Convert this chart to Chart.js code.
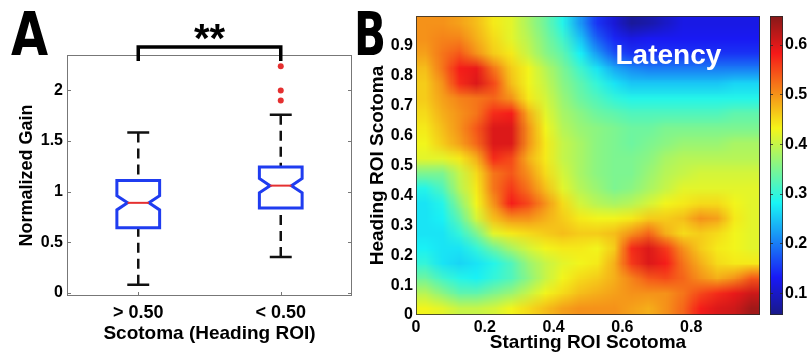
<!DOCTYPE html>
<html>
<head>
<meta charset="utf-8">
<script src="https://cdn.jsdelivr.net/npm/chart.js@4.4.0/dist/chart.umd.min.js"></script>
<style>
  html, body { margin: 0; padding: 0; background: #fff; }
  #wrap { position: relative; width: 808px; height: 352px; overflow: hidden; }
  canvas { position: absolute; top: 0; }
  #boxChart { left: 0; }
  #heatChart { left: 360px; }
  #barChart { left: 760px; }
</style>
</head>
<body>
<div id="wrap">
  <canvas id="boxChart" width="400" height="352"></canvas>
  <canvas id="heatChart" width="410" height="352"></canvas>
  <canvas id="barChart" width="48" height="352"></canvas>
</div>
<script>
// ---- panel A: notched box plot ----
const groupLabels = ["> 0.50", "< 0.50"];
const groupPositions = [1, 2];
const whiskerLow = [0.08, 0.355];
const q1 = [0.645, 0.84];
const notchLow = [0.82, 0.99];
const medians = [0.89, 1.06];
const notchHigh = [0.96, 1.13];
const q3 = [1.11, 1.245];
const whiskerHigh = [1.585, 1.76];
const outliersHigh = [2.24, 2.0, 1.9];
const gainTicks = [0, 0.5, 1, 1.5, 2];

// ---- panel B: latency map, rows from y = 0.975 (top) down to 0.025 ----
const xCenters = [0.025, 0.075, 0.125, 0.175, 0.225, 0.275, 0.325, 0.375, 0.425, 0.475,
                  0.525, 0.575, 0.625, 0.675, 0.725, 0.775, 0.825, 0.875, 0.925, 0.975];
const yCenters = [0.975, 0.925, 0.875, 0.825, 0.775, 0.725, 0.675, 0.625, 0.575, 0.525,
                  0.475, 0.425, 0.375, 0.325, 0.275, 0.225, 0.175, 0.125, 0.075, 0.025];
const latencyGrid = [
  [0.50,0.50,0.49,0.47,0.44,0.42,0.38,0.34,0.29,0.22,0.15,0.11,0.07,0.08,0.10,0.12,0.12,0.12,0.12,0.12],
  [0.50,0.51,0.51,0.48,0.45,0.42,0.39,0.35,0.31,0.25,0.18,0.14,0.12,0.13,0.13,0.13,0.13,0.13,0.13,0.13],
  [0.49,0.52,0.54,0.50,0.46,0.44,0.40,0.36,0.33,0.28,0.22,0.17,0.15,0.15,0.15,0.15,0.15,0.15,0.15,0.15],
  [0.47,0.52,0.58,0.59,0.52,0.46,0.43,0.39,0.35,0.31,0.27,0.23,0.21,0.20,0.20,0.20,0.20,0.20,0.20,0.20],
  [0.46,0.50,0.57,0.60,0.55,0.47,0.43,0.40,0.36,0.33,0.30,0.27,0.25,0.25,0.25,0.25,0.25,0.25,0.26,0.26],
  [0.46,0.49,0.51,0.52,0.53,0.50,0.44,0.41,0.37,0.34,0.32,0.30,0.29,0.29,0.29,0.29,0.29,0.29,0.29,0.29],
  [0.45,0.48,0.50,0.52,0.57,0.58,0.48,0.42,0.38,0.36,0.34,0.33,0.32,0.32,0.32,0.32,0.32,0.32,0.33,0.33],
  [0.44,0.47,0.50,0.54,0.60,0.60,0.50,0.43,0.39,0.37,0.36,0.35,0.34,0.34,0.35,0.35,0.35,0.35,0.35,0.35],
  [0.43,0.46,0.49,0.53,0.60,0.60,0.50,0.44,0.40,0.38,0.36,0.35,0.34,0.35,0.36,0.37,0.37,0.37,0.38,0.38],
  [0.42,0.42,0.44,0.48,0.57,0.55,0.48,0.44,0.40,0.38,0.36,0.35,0.35,0.36,0.38,0.39,0.39,0.39,0.39,0.39],
  [0.35,0.35,0.40,0.45,0.52,0.54,0.50,0.45,0.41,0.38,0.36,0.35,0.35,0.37,0.39,0.40,0.41,0.41,0.41,0.41],
  [0.29,0.32,0.39,0.44,0.52,0.56,0.52,0.47,0.42,0.39,0.37,0.35,0.36,0.38,0.40,0.42,0.42,0.42,0.42,0.42],
  [0.27,0.29,0.36,0.43,0.50,0.58,0.55,0.50,0.45,0.41,0.39,0.38,0.39,0.41,0.43,0.44,0.45,0.45,0.43,0.42],
  [0.27,0.28,0.33,0.41,0.47,0.50,0.50,0.48,0.46,0.44,0.43,0.43,0.44,0.46,0.46,0.47,0.50,0.49,0.44,0.42],
  [0.27,0.27,0.30,0.35,0.42,0.44,0.45,0.46,0.47,0.46,0.46,0.47,0.50,0.53,0.48,0.45,0.46,0.45,0.43,0.42],
  [0.28,0.27,0.27,0.30,0.34,0.38,0.41,0.43,0.44,0.44,0.43,0.46,0.57,0.60,0.56,0.50,0.46,0.44,0.43,0.42],
  [0.30,0.27,0.26,0.27,0.29,0.32,0.37,0.40,0.42,0.43,0.44,0.48,0.56,0.60,0.58,0.52,0.48,0.45,0.44,0.44],
  [0.34,0.31,0.29,0.28,0.30,0.32,0.36,0.40,0.43,0.45,0.46,0.48,0.51,0.54,0.55,0.53,0.50,0.48,0.50,0.54],
  [0.39,0.36,0.33,0.33,0.35,0.37,0.40,0.43,0.45,0.47,0.48,0.49,0.50,0.50,0.50,0.52,0.55,0.57,0.59,0.61],
  [0.43,0.42,0.40,0.40,0.41,0.43,0.45,0.47,0.49,0.50,0.50,0.50,0.49,0.48,0.50,0.53,0.58,0.60,0.61,0.64]
];
const startTicks = [0, 0.2, 0.4, 0.6, 0.8];
const headingTicks = [0, 0.1, 0.2, 0.3, 0.4, 0.5, 0.6, 0.7, 0.8, 0.9];
const colorTicks = [0.1, 0.2, 0.3, 0.4, 0.5, 0.6];
const colorMin = 0.056;
const colorMax = 0.658;

const FONT = '"Liberation Sans", Arial, Helvetica, sans-serif';
Chart.defaults.font.family = FONT;
Chart.defaults.font.weight = "bold";
Chart.defaults.color = "#000";

function jet(t) {
  t = Math.max(0, Math.min(1, t));
  const c = (v) => Math.round(25 + 220 * Math.max(0, Math.min(1, v)));
  return [c(1.5 - Math.abs(4 * t - 3)), c(1.5 - Math.abs(4 * t - 2)), c(1.5 - Math.abs(4 * t - 1))];
}
function jetCss(v) {
  const [r, g, b] = jet((v - colorMin) / (colorMax - colorMin));
  return `rgb(${r},${g},${b})`;
}
const tickLabel = (v) => (v === 0 ? "0" : v.toFixed(1));
const noGrid = { display: false, drawTicks: false, tickLength: 0 };

// box plot drawing
const boxHalfWidth = 0.15;
const capHalfWidth = 0.077;
const boxPlugin = {
  id: "boxes",
  afterDatasetsDraw(chart) {
    const { ctx, chartArea: a, scales: { x, y } } = chart;
    ctx.save();
    // frame + inward ticks
    ctx.strokeStyle = "#777";
    ctx.lineWidth = 1;
    ctx.strokeRect(a.left + 0.5, a.top + 0.5, a.right - a.left - 1, a.bottom - a.top - 1);
    ctx.beginPath();
    gainTicks.forEach((v) => {
      const py = Math.round(y.getPixelForValue(v)) + 0.5;
      ctx.moveTo(a.left, py); ctx.lineTo(a.left + 4, py);
      ctx.moveTo(a.right, py); ctx.lineTo(a.right - 4, py);
    });
    groupPositions.forEach((p) => {
      const px = Math.round(x.getPixelForValue(p)) + 0.5;
      ctx.moveTo(px, a.bottom); ctx.lineTo(px, a.bottom - 4);
      ctx.moveTo(px, a.top); ctx.lineTo(px, a.top + 4);
    });
    ctx.stroke();

    const py = (v) => y.getPixelForValue(v);
    groupPositions.forEach((pos, i) => {
      const cx = x.getPixelForValue(pos);
      const hw = x.getPixelForValue(pos + boxHalfWidth) - cx;
      const nw = hw / 2;
      const cw = x.getPixelForValue(pos + capHalfWidth) - cx;
      // whiskers
      ctx.strokeStyle = "#111";
      ctx.lineWidth = 2.5;
      ctx.setLineDash([10, 6]);
      ctx.beginPath();
      ctx.moveTo(cx, py(whiskerHigh[i])); ctx.lineTo(cx, py(q3[i]));
      ctx.moveTo(cx, py(whiskerLow[i])); ctx.lineTo(cx, py(q1[i]));
      ctx.stroke();
      ctx.setLineDash([]);
      ctx.beginPath();
      ctx.moveTo(cx - cw, py(whiskerHigh[i])); ctx.lineTo(cx + cw, py(whiskerHigh[i]));
      ctx.moveTo(cx - cw, py(whiskerLow[i])); ctx.lineTo(cx + cw, py(whiskerLow[i]));
      ctx.stroke();
      // notched box
      ctx.strokeStyle = "#1f3cf0";
      ctx.lineWidth = 3;
      ctx.lineJoin = "miter";
      ctx.beginPath();
      ctx.moveTo(cx - hw, py(q1[i]));
      ctx.lineTo(cx - hw, py(notchLow[i]));
      ctx.lineTo(cx - nw, py(medians[i]));
      ctx.lineTo(cx - hw, py(notchHigh[i]));
      ctx.lineTo(cx - hw, py(q3[i]));
      ctx.lineTo(cx + hw, py(q3[i]));
      ctx.lineTo(cx + hw, py(notchHigh[i]));
      ctx.lineTo(cx + nw, py(medians[i]));
      ctx.lineTo(cx + hw, py(notchLow[i]));
      ctx.lineTo(cx + hw, py(q1[i]));
      ctx.closePath();
      ctx.stroke();
      // median
      ctx.strokeStyle = "#e53030";
      ctx.lineWidth = 2;
      ctx.beginPath();
      ctx.moveTo(cx - nw, py(medians[i])); ctx.lineTo(cx + nw, py(medians[i]));
      ctx.stroke();
    });

    // significance bracket
    const x1 = x.getPixelForValue(groupPositions[0]);
    const x2 = x.getPixelForValue(groupPositions[1]);
    ctx.strokeStyle = "#000";
    ctx.lineWidth = 3.5;
    ctx.lineJoin = "miter";
    ctx.beginPath();
    ctx.moveTo(x1, py(2.29)); ctx.lineTo(x1, py(2.43));
    ctx.lineTo(x2, py(2.43)); ctx.lineTo(x2, py(2.29));
    ctx.stroke();
    ctx.fillStyle = "#000";
    ctx.textAlign = "center";
    ctx.textBaseline = "alphabetic";
    ctx.font = `bold 40px ${FONT}`;
    ctx.fillText("**", (x1 + x2) / 2, 52);

    // panel letters
    ctx.textAlign = "left";
    ctx.font = 'bold 60px "DejaVu Sans", sans-serif';
    ctx.save(); ctx.translate(11, 55); ctx.scale(0.8, 1); ctx.fillText("A", 0, 0); ctx.restore();
    ctx.save(); ctx.translate(354, 55); ctx.scale(0.7, 1); ctx.fillText("B", 0, 0); ctx.restore();
    ctx.restore();
  },
};

new Chart(document.getElementById("boxChart"), {
  type: "scatter",
  data: {
    datasets: [{
      data: outliersHigh.map((v) => ({ x: groupPositions[1], y: v })),
      pointRadius: 3,
      pointHoverRadius: 3,
      backgroundColor: "#e53030",
      borderWidth: 0,
    }],
  },
  options: {
    responsive: false,
    animation: false,
    events: [],
    layout: { padding: { left: 12, top: 55, right: 48, bottom: 0 } },
    plugins: { legend: { display: false }, tooltip: { enabled: false } },
    scales: {
      x: {
        type: "linear", min: 0.5, max: 2.5,
        afterBuildTicks: (s) => { s.ticks = groupPositions.map((v) => ({ value: v })); },
        afterFit: (s) => { s.height = 56; },
        grid: noGrid, border: { display: false },
        ticks: {
          padding: 6, font: { size: 18 }, maxRotation: 0, autoSkip: false,
          callback: (v) => groupLabels[groupPositions.indexOf(v)] || "",
        },
        title: { display: true, text: "Scotoma (Heading ROI)", font: { size: 19, lineHeight: 1 }, padding: { top: 0, bottom: 9 } },
      },
      y: {
        min: -0.03, max: 2.35,
        afterBuildTicks: (s) => { s.ticks = gainTicks.map((v) => ({ value: v })); },
        afterFit: (s) => { s.width = 55; },
        grid: noGrid, border: { display: false },
        ticks: { padding: 4, font: { size: 16 }, callback: (v) => String(v) },
        title: { display: true, text: "Normalized Gain", font: { size: 18, lineHeight: 1 }, padding: { top: 6, bottom: 0 } },
      },
    },
  },
  plugins: [boxPlugin],
});

// heat map drawing: grid cells painted to a small image, scaled into the axes
const heatPlugin = {
  id: "heat",
  beforeDatasetsDraw(chart) {
    const { ctx, chartArea: a, scales: { x, y } } = chart;
    const nx = xCenters.length, ny = yCenters.length;
    const off = document.createElement("canvas");
    off.width = nx + 2; off.height = ny + 2;
    const octx = off.getContext("2d");
    const img = octx.createImageData(nx + 2, ny + 2);
    for (let j = 0; j < ny + 2; j++) {
      for (let i = 0; i < nx + 2; i++) {
        const jj = Math.min(ny - 1, Math.max(0, j - 1));
        const ii = Math.min(nx - 1, Math.max(0, i - 1));
        const [r, g, b] = jet((latencyGrid[jj][ii] - colorMin) / (colorMax - colorMin));
        const k = (j * (nx + 2) + i) * 4;
        img.data[k] = r; img.data[k + 1] = g; img.data[k + 2] = b; img.data[k + 3] = 255;
      }
    }
    octx.putImageData(img, 0, 0);
    const left = x.getPixelForValue(0), right = x.getPixelForValue(1);
    const top = y.getPixelForValue(1), bottom = y.getPixelForValue(0);
    ctx.save();
    ctx.imageSmoothingEnabled = true;
    ctx.drawImage(off, 1, 1, nx, ny, left, top, right - left, bottom - top);
    ctx.strokeStyle = "rgba(40,40,40,0.8)";
    ctx.lineWidth = 1;
    ctx.strokeRect(a.left + 0.5, a.top + 0.5, a.right - a.left - 1, a.bottom - a.top - 1);
    ctx.fillStyle = "#fff";
    ctx.font = `bold 28px ${FONT}`;
    ctx.textBaseline = "alphabetic";
    ctx.fillText("Latency", x.getPixelForValue(0.58), y.getPixelForValue(0.84));
    ctx.restore();
  },
};

new Chart(document.getElementById("heatChart"), {
  type: "scatter",
  data: {
    datasets: [{
      data: latencyGrid.flatMap((row, j) => row.map((v, i) => ({ x: xCenters[i], y: yCenters[j], v }))),
      pointRadius: 0,
      pointHoverRadius: 0,
    }],
  },
  options: {
    responsive: false,
    animation: false,
    events: [],
    layout: { padding: { left: 0, top: 16, right: 10, bottom: 0 } },
    plugins: { legend: { display: false }, tooltip: { enabled: false } },
    scales: {
      x: {
        min: 0, max: 1,
        afterBuildTicks: (s) => { s.ticks = startTicks.map((v) => ({ value: v })); },
        afterFit: (s) => { s.height = 37; },
        grid: noGrid, border: { display: false },
        ticks: { padding: 3, font: { size: 16 }, maxRotation: 0, autoSkip: false, callback: tickLabel },
        title: { display: true, text: "Starting ROI Scotoma", font: { size: 19, lineHeight: 1 }, padding: { top: 0, bottom: 0 } },
      },
      y: {
        min: 0, max: 1,
        afterBuildTicks: (s) => { s.ticks = headingTicks.map((v) => ({ value: v })); },
        afterFit: (s) => { s.width = 56; },
        grid: noGrid, border: { display: false },
        ticks: { padding: 3, font: { size: 16 }, autoSkip: false, callback: tickLabel },
        title: { display: true, text: "Heading ROI Scotoma", font: { size: 19, lineHeight: 1 }, padding: { top: 8, bottom: 0 } },
      },
    },
  },
  plugins: [heatPlugin],
});

// colour bar
const barPlugin = {
  id: "colorbar",
  beforeDatasetsDraw(chart) {
    const { ctx, chartArea: a, scales: { y } } = chart;
    ctx.save();
    for (let py = Math.floor(a.top); py < a.bottom; py++) {
      ctx.fillStyle = jetCss(y.getValueForPixel(py + 0.5));
      ctx.fillRect(a.left, py, a.right - a.left, 1);
    }
    ctx.strokeStyle = "rgba(40,40,40,0.8)";
    ctx.lineWidth = 1;
    ctx.strokeRect(a.left + 0.5, a.top + 0.5, a.right - a.left - 1, a.bottom - a.top - 1);
    ctx.beginPath();
    colorTicks.forEach((v) => {
      const p = Math.round(y.getPixelForValue(v)) + 0.5;
      ctx.moveTo(a.left, p); ctx.lineTo(a.left + 3, p);
      ctx.moveTo(a.right, p); ctx.lineTo(a.right - 3, p);
    });
    ctx.stroke();
    ctx.restore();
  },
};

new Chart(document.getElementById("barChart"), {
  type: "scatter",
  data: { datasets: [{ data: [], pointRadius: 0 }] },
  options: {
    responsive: false,
    animation: false,
    events: [],
    layout: { padding: { left: 10, top: 16, right: 0, bottom: 37 } },
    plugins: { legend: { display: false }, tooltip: { enabled: false } },
    scales: {
      x: { display: false, min: 0, max: 1 },
      y: {
        position: "right", min: colorMin, max: colorMax,
        afterBuildTicks: (s) => { s.ticks = colorTicks.map((v) => ({ value: v })); },
        afterFit: (s) => { s.width = 25; },
        grid: noGrid, border: { display: false },
        ticks: { padding: 2, font: { size: 16 }, autoSkip: false, callback: (v) => v.toFixed(1) },
      },
    },
  },
  plugins: [barPlugin],
});
</script>
</body>
</html>
